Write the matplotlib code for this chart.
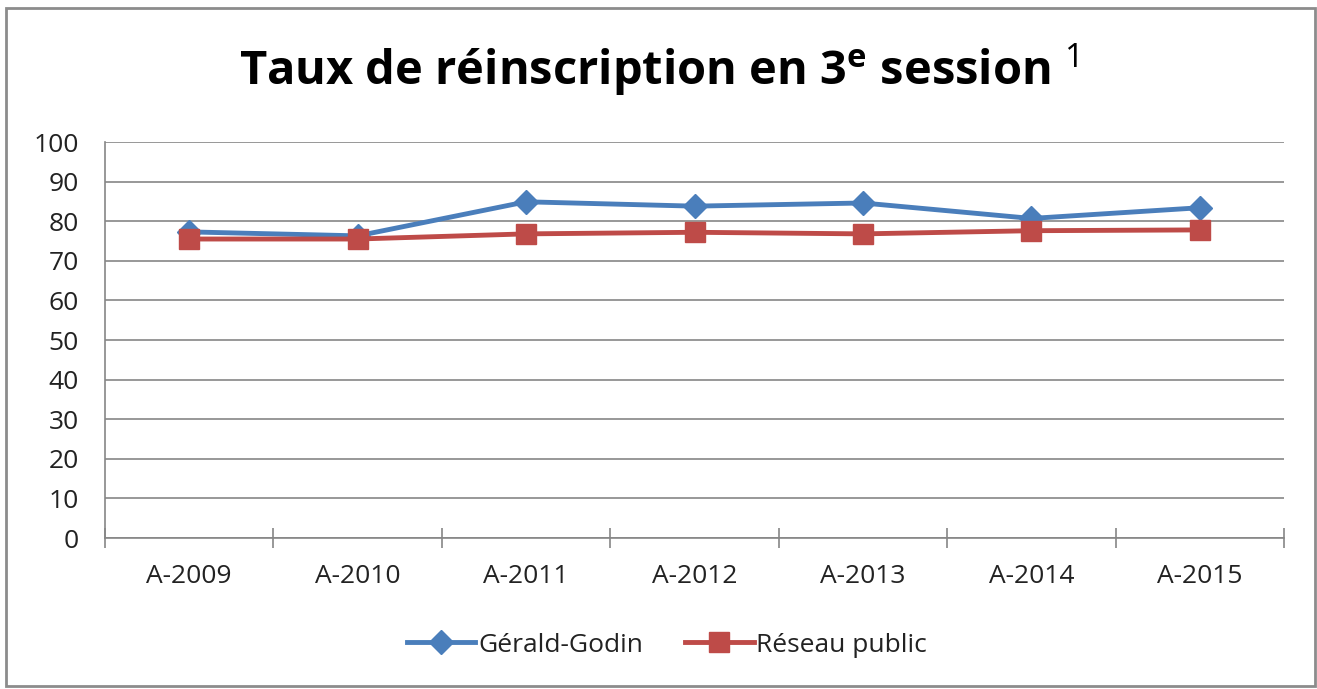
import matplotlib
matplotlib.use("Agg")
import matplotlib.pyplot as plt
from matplotlib.patches import Rectangle

plt.rcParams['font.family'] = ['Open Sans', 'DejaVu Sans']
plt.rcParams['mathtext.fontset'] = 'custom'
plt.rcParams['mathtext.rm'] = 'Open Sans'
plt.rcParams['mathtext.bf'] = 'Open Sans:bold'

years = ["A-2009", "A-2010", "A-2011", "A-2012", "A-2013", "A-2014", "A-2015"]
gerald_godin = [77.3, 76.3, 84.9, 83.8, 84.6, 80.7, 83.4]
reseau_public = [75.5, 75.5, 76.8, 77.2, 76.8, 77.6, 77.8]

BLUE = "#4A7EBB"
RED = "#BE4B48"
GRID = "#868686"

W, H = 1317, 689
fig = plt.figure(figsize=(W / 100, H / 100), dpi=100)
ax = fig.add_axes([105 / W, 1 - 538 / H, (1284 - 105) / W, (538 - 142) / H])

x = range(len(years))
ax.plot(x, gerald_godin, color=BLUE, lw=3.5, marker="D", ms=12, label="Gérald-Godin", zorder=3)
ax.plot(x, reseau_public, color=RED, lw=3.5, marker="s", ms=15, label="Réseau public", zorder=4)

ax.set_xlim(-0.5, len(years) - 0.5)
ax.set_ylim(0, 100)
ax.set_yticks(range(0, 101, 10))
ax.yaxis.grid(True, color=GRID, lw=1.2)
ax.set_axisbelow(True)

# category labels sit between the boundary ticks
ax.set_xticks([i - 0.5 for i in range(len(years) + 1)])
ax.set_xticklabels([])
ax.set_xticks(list(x), minor=True)
ax.set_xticklabels(years, minor=True, fontsize=19, color="#222222")
ax.tick_params(axis="x", which="major", length=14, width=1.2, color=GRID, direction="inout")
ax.tick_params(axis="x", which="minor", length=0, pad=19)
ax.tick_params(axis="y", length=0, labelsize=19, pad=19, labelcolor="#222222")

for s in ["top", "right"]:
    ax.spines[s].set_visible(False)
for s in ["left", "bottom"]:
    ax.spines[s].set_color(GRID)
    ax.spines[s].set_linewidth(1.2)

fig.text(0.5, 1 - 70 / H, r"Taux de réinscription en 3$^{\mathbf{e}}$ session $^{1}$",
         ha="center", va="center", fontsize=33.8, fontweight="bold")

fig.legend(loc="center", bbox_to_anchor=(667 / W, 1 - 645 / H), ncol=2,
           frameon=False, fontsize=19, handlelength=2.6, columnspacing=1.6, handletextpad=0.1,
           labelcolor="#222222")

fig.patches.append(Rectangle((6 / W, 3 / H), 1309 / W, 678 / H, transform=fig.transFigure,
                             fill=False, edgecolor="#8C8C8C", lw=2))

fig.savefig("out.png", dpi=100)
